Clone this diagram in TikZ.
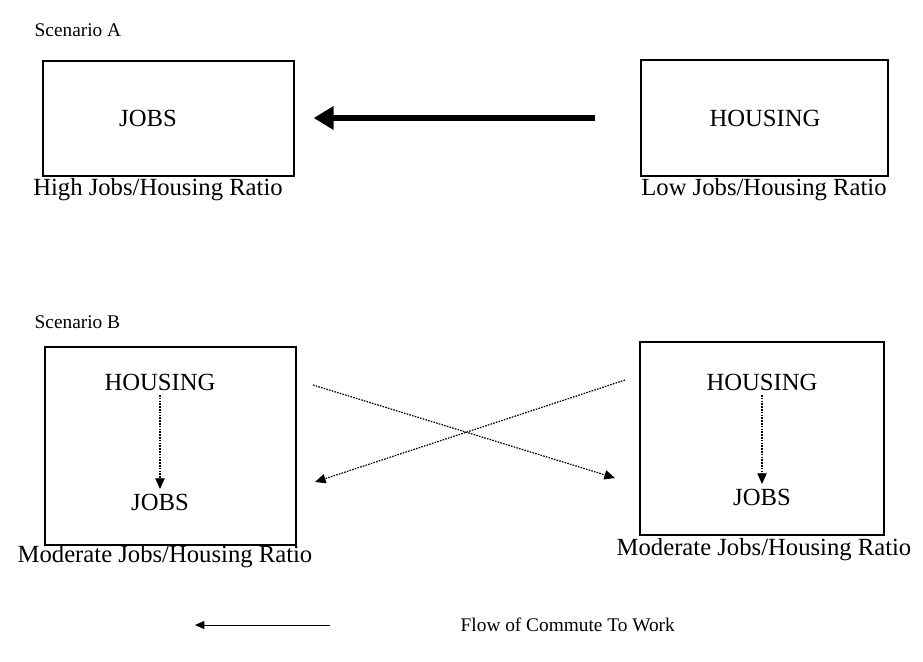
\documentclass[tikz,border=0pt]{standalone}
\usepackage{fontspec}
\setmainfont{Liberation Serif}
\usepackage{tikz}
\usetikzlibrary{arrows.meta}
\tikzset{
	box/.style 2 args={draw,line width=1pt,minimum width=#1*0.75pt,minimum height=#2*0.75pt,inner sep=0pt},
	word/.style={font=\fontsize{18.5}{20}\selectfont},
	ratio/.style={font=\fontsize{18.5}{20}\selectfont},
	title/.style={font=\fontsize{14.5}{16}\selectfont,anchor=west},
	bigarrow/.style={line width=4pt,-{Triangle[length=15pt,width=17pt]}},
	dotarrow/.style={line width=0.9pt,dash pattern=on 1.2pt off 0.9pt,-{Triangle[length=8pt,width=7pt]}},
	thinarrow/.style={line width=0.7pt,-{Triangle[length=7pt,width=6pt]}}
}

\begin{document}
\begin{tikzpicture}[x=0.75pt,y=-0.75pt]
	\useasboundingbox (0,0) rectangle (923,661);
	% scenario A
	\node [title] (sa) at (30,30) {Scenario A};
	\node [box={251}{115}] (jobsA) at (168.5,118.5) {};
	\node [word] (jA) at (148,118) {JOBS};
	\node [box={247}{116}] (housA) at (764.5,118) {};
	\node [word] (hA) at (765,118) {HOUSING};
	\node [ratio] (rA1) at (158,190) {High Jobs/Housing Ratio};
	\node [ratio] (rA2) at (764,190) {Low Jobs/Housing Ratio};

	\draw [bigarrow,shorten <=45*0.75pt,shorten >=19*0.75pt] (housA.west) -- (jobsA.east |- housA.west);

	% scenario B
	\node [title] (sb) at (30,322) {Scenario B};
	\node [box={251}{198}] (boxB1) at (170.5,446) {};
	\node [word] (hB1) at (160,382) {HOUSING};
	\node [word] (jB1) at (160,502) {JOBS};
	\node [box={244}{193}] (boxB2) at (762,438.5) {};
	\node [word] (hB2) at (762,382) {HOUSING};
	\node [word] (jB2) at (762,497) {JOBS};
	\node [ratio] (rB1) at (165,557) {Moderate Jobs/Housing Ratio};
	\node [ratio] (rB2) at (764,550) {Moderate Jobs/Housing Ratio};

	\draw [dotarrow] (hB1) -- (jB1);
	\draw [dotarrow] (hB2) -- (jB2);

	\coordinate (outB1) at (313,385);
	\coordinate (inB2) at (615,478);
	\coordinate (outB2) at (625,380);
	\coordinate (inB1) at (315,482);
	\draw [dotarrow] (outB1) -- (inB2);
	\draw [dotarrow] (outB2) -- (inB1);

	% legend
	\coordinate (lg1) at (330,625);
	\coordinate (lg2) at (195,625);
	\draw [thinarrow] (lg1) -- (lg2);
	\node [font=\fontsize{14.5}{16}\selectfont,anchor=west] (lgtext) at (456,625) {Flow of Commute To Work};
\end{tikzpicture}
\end{document}
